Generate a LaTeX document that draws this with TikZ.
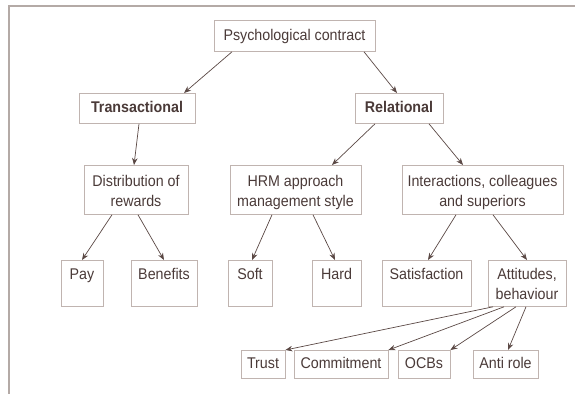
\documentclass[tikz,border=0pt]{standalone}
\usepackage{fontspec}
\setmainfont{Liberation Sans}[FakeStretch=0.92]
\usetikzlibrary{arrows.meta}
\definecolor{txtbrown}{HTML}{4A3A38}
\definecolor{arrbrown}{HTML}{5A4844}
\definecolor{boxline}{HTML}{C0B4B0}
\definecolor{frameline}{HTML}{B4AAA6}
\begin{document}
\begin{tikzpicture}[x=1pt,y=-1pt,thick,
    every node/.style={font=\fontsize{15.5}{20.5}\selectfont,text=txtbrown},
    box/.style={draw=boxline,line width=0.8pt,inner sep=0pt,align=center,anchor=north},
    oneline/.style={text height=18.7pt,text depth=11.3pt},
    twoline/.style={text height=41.5pt,text depth=7.5pt},
    tall/.style={text height=19pt,text depth=27pt},
    tallpair/.style={text height=39.5pt,text depth=6.5pt},
    low/.style={text height=18pt,text depth=10pt},
    link/.style={draw=arrbrown,line width=0.7pt,-{Stealth[length=7pt,width=5.5pt]}}]
                \useasboundingbox (0,0) rectangle (575,394);
                \draw[frameline,line width=1.3pt] (575,6) -- (9,6) -- (9,394);
                \node[box,minimum width=161pt,text height=20.5pt,text depth=10.5pt] at (294.5,20) (psych) {Psychological contract};
                \node[box,oneline,minimum width=116pt,font=\fontsize{15.5}{20.5}\selectfont\bfseries] at (137,93) (trans) {Transactional};
                \node[box,oneline,minimum width=88pt,font=\fontsize{15.5}{20.5}\selectfont\bfseries] at (399,93) (rel) {Relational};
                \node[box,twoline,minimum width=104pt] at (136,165) (dist) {Distribution of\\rewards};
                \node[box,twoline,minimum width=131pt] at (295.5,165) (hrm) {HRM approach\\management style};
                \node[box,twoline,minimum width=161pt] at (482.5,165) (inter) {Interactions, colleagues\\and superiors};
                \node[box,tall,minimum width=42pt] at (82,260) (pay) {Pay};
                \node[box,tall,minimum width=66pt] at (164,260) (ben) {Benefits};
                \node[box,tall,minimum width=44pt] at (250,260) (soft) {Soft};
                \node[box,tall,minimum width=49pt] at (336.5,260) (hard) {Hard};
                \node[box,tall,minimum width=89pt] at (426.5,260) (sat) {Satisfaction};
                \node[box,tallpair,minimum width=78pt] at (527,260) (att) {Attitudes,\\behaviour};
                \node[box,low,minimum width=44pt] at (263,350) (trust) {Trust};
                \node[box,low,minimum width=94pt] at (341,350) (commit) {Commitment};
                \node[box,low,minimum width=52pt] at (424,350) (ocbs) {OCBs};
                \node[box,low,minimum width=65pt] at (505.5,350) (anti) {Anti role};
                \draw[link] ([xshift=-62.5pt]psych.south) -- ([xshift=47pt]trans.north);
                \draw[link] ([xshift=69.5pt]psych.south) -- ([xshift=-2pt]rel.north);
                \draw[link] ([xshift=2pt]trans.south) -- ([xshift=-2pt]dist.north);
                \draw[link] ([xshift=-24pt]rel.south) -- ([xshift=36.5pt]hrm.north);
                \draw[link] ([xshift=30pt]rel.south) -- ([xshift=-19.5pt]inter.north);
                \draw[link] ([xshift=-24pt]dist.south) -- (pay.north);
                \draw[link] ([xshift=2pt]dist.south) -- (ben.north);
                \draw[link] ([xshift=-23.5pt]hrm.south) -- ([xshift=2pt]soft.north);
                \draw[link] ([xshift=17.5pt]hrm.south) -- ([xshift=-1.5pt]hard.north);
                \draw[link] ([xshift=-26.5pt]inter.south) -- ([xshift=1.5pt]sat.north);
                \draw[link] ([xshift=10.5pt]inter.south) -- (att.north);
                \draw[link] ([xshift=-34pt]att.south) -- (trust.north east);
                \draw[link] ([xshift=-23pt]att.south) -- (commit.north east);
                \draw[link] ([xshift=-11pt]att.south) -- (ocbs.north east);
                \draw[link] ([xshift=-1pt]att.south) -- ([xshift=2.5pt]anti.north);

            \end{tikzpicture}
\end{document}
